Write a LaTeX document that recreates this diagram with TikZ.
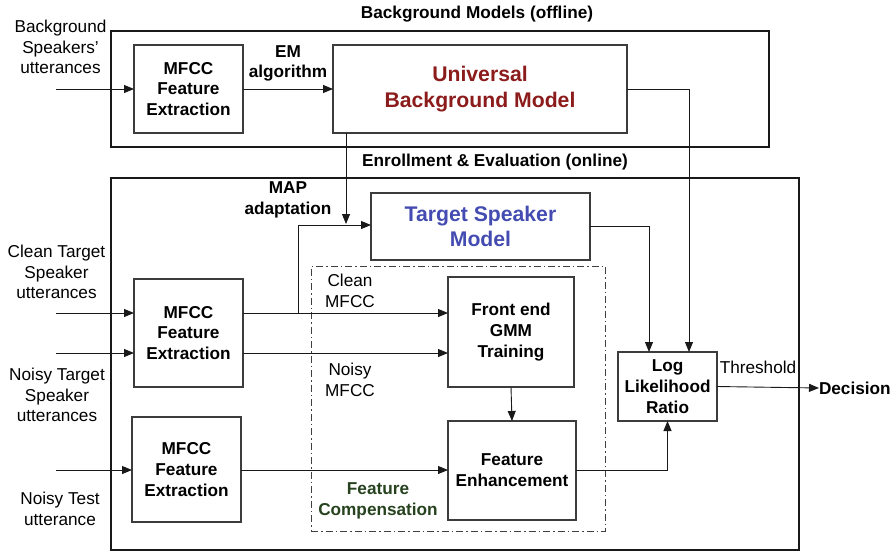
\documentclass[tikz,border=0pt]{standalone}
\usepackage{fontspec}
\setmainfont{Liberation Sans}
\usetikzlibrary{arrows.meta,calc}
\definecolor{ubmred}{RGB}{140,28,28}
\definecolor{tsmblue}{RGB}{68,76,178}
\definecolor{fcgreen}{RGB}{38,66,30}
\definecolor{boxgray}{RGB}{60,60,60}
\begin{document}
\begin{tikzpicture}[x=1pt,y=-1pt,
  every node/.style={inner sep=0pt, outer sep=0pt, align=center, font=\fontsize{17.2}{20.8}\selectfont},
  outerbox/.style={draw=black!90, line width=1.8pt},
  blockbox/.style={draw=boxgray, line width=1.2pt, font=\fontsize{17.2}{20.8}\selectfont\bfseries},
  bigbox/.style={draw=boxgray, line width=1.2pt, font=\fontsize{21.2}{25.6}\selectfont\bfseries},
  lbl/.style={font=\fontsize{17.2}{20.8}\selectfont},
  blbl/.style={font=\fontsize{17.2}{20.8}\selectfont\bfseries},
  conn/.style={draw=black!90, line width=0.9pt},
  arr/.style={conn, -{Triangle[length=10pt,width=8pt]}}
]
\useasboundingbox (0,0) rectangle (896,552);
% outer frames
\node[outerbox, minimum width=658pt, minimum height=116pt] (bgframe) at (440,89) {};
\node[outerbox, minimum width=688pt, minimum height=372pt] (enframe) at (455,364) {};
\node[draw=black!75, line width=0.9pt, dash pattern=on 7pt off 3pt on 1.5pt off 3pt, minimum width=294pt, minimum height=265pt] (fcframe) at (458,398.5) {};
% titles
\node[blbl] (bgtitle) at (477,14) {Background Models (offline)};
\node[blbl] (entitle) at (495,162) {Enrollment \& Evaluation (online)};
% blocks
\node[blockbox, minimum width=109pt, minimum height=88pt] (mfcc1) at (188.5,89) {MFCC\\Feature\\Extraction};
\node[bigbox, text=ubmred, minimum width=294pt, minimum height=88pt] (ubm) at (480,89) {Universal\\Background Model};
\node[bigbox, text=tsmblue, minimum width=219pt, minimum height=67pt] (tsm) at (480.5,226.5) {Target Speaker\\Model};
\node[blockbox, minimum width=109pt, minimum height=108pt] (mfcc2) at (188.5,333) {MFCC\\Feature\\Extraction};
\node[blockbox, minimum width=109pt, minimum height=105pt] (mfcc3) at (186.5,469.5) {MFCC\\Feature\\Extraction};
\node[blockbox, minimum width=126pt, minimum height=110pt] (gmm) at (511,332) {Front end\\GMM\\Training};
\node[blockbox, minimum width=128pt, minimum height=99pt] (fe) at (512,470.5) {Feature\\Enhancement};
\node[blockbox, minimum width=99pt, minimum height=69pt] (llr) at (667.5,386.5) {Log\\Likelihood\\Ratio};
% labels
\node[lbl] (bgspk) at (60.5,47) {Background\\Speakers'\\utterances};
\node[lbl] (clean) at (56.5,272) {Clean Target\\Speaker\\utterances};
\node[lbl] (noisy) at (57,395) {Noisy Target\\Speaker\\utterances};
\node[lbl] (test) at (60,508.5) {Noisy Test\\utterance};
\node[blbl] (em) at (288,63.5) {EM\\algorithm};
\node[blbl] (map) at (288,200) {MAP\\adaptation};
\node[lbl] (cmfcc) at (350,290.5) {Clean\\MFCC};
\node[lbl] (nmfcc) at (350,380) {Noisy\\MFCC};
\node[blbl, text=fcgreen] (fclbl) at (378,500.5) {Feature\\Compensation};
\node[lbl] (thr) at (758,367) {Threshold};
\node[blbl, anchor=west] (dec) at (819,388) {Decision};
% coordinates
\coordinate (in1) at (56,89);
\coordinate (in2) at (56,313);
\coordinate (in3) at (56,353);
\coordinate (in4) at (56,470);
\coordinate (mapjoin) at (346,225);
\coordinate (branch) at (298,313);
% connectors
\draw[arr] (in1) -- (mfcc1.west);
\draw[arr] (mfcc1.east) -- (ubm.west);
\draw[arr] (in2) -- (in2 -| mfcc2.west);
\draw[arr] (in3) -- (in3 -| mfcc2.west);
\draw[arr] (in4) -- (in4 -| mfcc3.west);
\draw[arr] (in2 -| mfcc2.east) -- (in2 -| gmm.west);
\draw[arr] (in3 -| mfcc2.east) -- (in3 -| gmm.west);
\draw[arr] (in4 -| mfcc3.east) -- (in4 -| fe.west);
\draw[arr] (branch) -- (branch |- mapjoin) -- (mapjoin -| tsm.west);
\draw[arr] (ubm.south -| mapjoin) -- ($(mapjoin)+(0,-1)$);
\draw[arr] (gmm.south) -- (fe.north);
\draw[arr] (tsm.east) -- (tsm.east -| 649,0) -- (llr.north -| 649,0);
\draw[arr] (ubm.east) -- (ubm.east -| 689,0) -- (llr.north -| 689,0);
\draw[arr] (fe.east) -- (fe.east -| llr.south) -- (llr.south);
\draw[arr] (llr.east) -- (dec.west);
\end{tikzpicture}
\end{document}
